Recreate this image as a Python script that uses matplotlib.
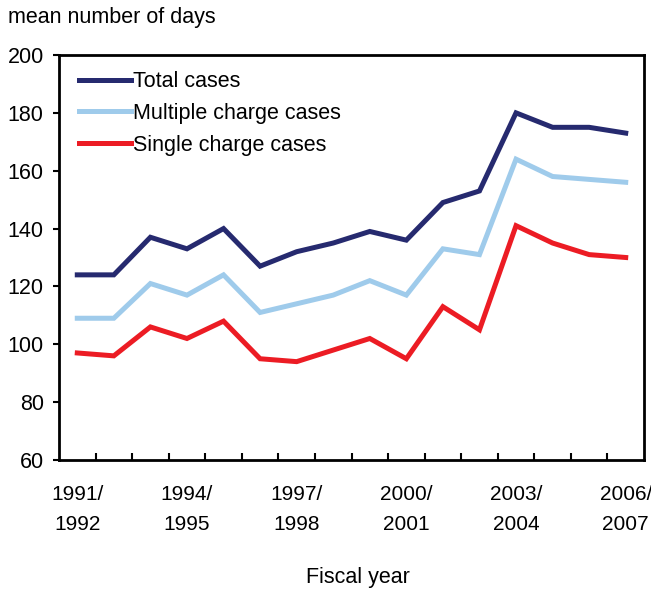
import numpy as np
import matplotlib
matplotlib.use('Agg')
import matplotlib.pyplot as plt
from matplotlib.ticker import FixedLocator

plt.rcParams['font.family'] = ['Liberation Sans', 'DejaVu Sans']

# fiscal years, 1991/1992 .. 2006/2007
years = ['%d/\n%d' % (y, y + 1) for y in range(1991, 2007)]
total = [124, 124, 137, 133, 140, 127, 132, 135, 139, 136, 149, 153, 180, 175, 175, 173]
multiple = [109, 109, 121, 117, 124, 111, 114, 117, 122, 117, 133, 131, 164, 158, 157, 156]
single = [97, 96, 106, 102, 108, 95, 94, 98, 102, 95, 113, 105, 141, 135, 131, 130]
yticks = [60, 80, 100, 120, 140, 160, 180, 200]

fs = 15.5
fig = plt.figure(figsize=(6.51, 5.92), dpi=100)
ax = fig.add_axes([59 / 651, 1 - 460 / 592, 585 / 651, 405 / 592])

x = np.arange(len(years))
ax.plot(x, total, color='#262a6f', lw=3.6, label='Total cases', solid_joinstyle='miter')
ax.plot(x, multiple, color='#9fcbeb', lw=3.6, label='Multiple charge cases', solid_joinstyle='miter')
ax.plot(x, single, color='#ec1c24', lw=3.6, label='Single charge cases', solid_joinstyle='miter')

ax.set_xlim(-0.5, len(years) - 0.5)
ax.set_ylim(60, 200)
ax.set_yticks(yticks)
ax.set_xticks(x[::3])
ax.set_xticklabels(years[::3], linespacing=1.7)
ax.xaxis.set_minor_locator(FixedLocator(np.arange(0.5, len(years) - 1, 1)))

for s in ax.spines.values():
    s.set_linewidth(2)
ax.tick_params(axis='x', which='major', length=0, pad=18, labelsize=15)
ax.tick_params(axis='x', which='minor', direction='in', length=5, width=1.5)
ax.tick_params(axis='y', direction='out', length=4, width=1.5, pad=7, labelsize=fs)

leg = ax.legend(loc='upper left', frameon=False, fontsize=fs, handlelength=2.4,
                handletextpad=0.1, labelspacing=0.5, bbox_to_anchor=(0.007, 1.0),
                borderaxespad=0.35)

fig.text(8 / 651, 1 - 18 / 592, 'mean number of days', fontsize=fs, va='center', ha='left')
fig.text(358 / 651, 1 - 578 / 592, 'Fiscal year', fontsize=fs, va='center', ha='center')

fig.savefig('out.png', dpi=100)
